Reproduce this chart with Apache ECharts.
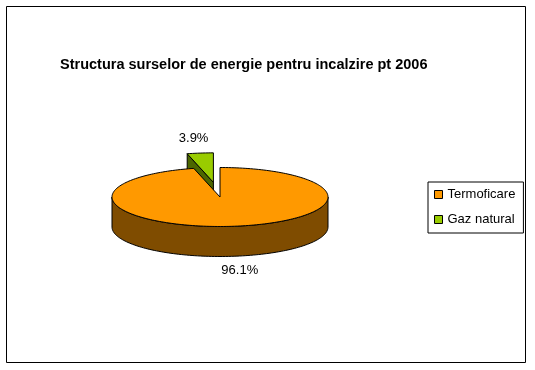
<!DOCTYPE html>
<html><head><meta charset="utf-8">
<script src="https://cdn.jsdelivr.net/npm/echarts@6/dist/echarts.min.js"></script>
<style>html,body{margin:0;padding:0;background:#fff}#c{width:535px;height:370px}</style>
</head><body><div id="c"></div>
<script>
// ---- data ----
const categories = ['Termoficare', 'Gaz natural'];
const values = [96.1, 3.9];
const explode = [0, 0.5];
const titleText = 'Structura surselor de energie pentru incalzire pt 2006';

// ---- styles ----
const topColors = ['#FF9900', '#99CC00'];
const sideColors = ['#7F4C00', '#4C6600'];
const FONT = '"Liberation Sans", Arial, sans-serif';

// ---- pie geometry (layout) ----
const CX = 220, CY = 197, RX = 108, RY = 29.5, DEPTH = 30;

const total = values.reduce((a, b) => a + b, 0);

function pt(cx, cy, th, dz) { return [cx + RX * Math.sin(th), cy - RY * Math.cos(th) + dz]; }
function arc(cx, cy, a, b, dz) {
  const n = Math.max(2, Math.ceil((b - a) / (Math.PI / 120)));
  const out = [];
  for (let i = 0; i <= n; i++) out.push(pt(cx, cy, a + (b - a) * i / n, dz));
  return out;
}

function makeRender(idx) {
  return function (params, api) {
    const v = api.value(0);
    let before = 0;
    for (let i = 0; i < idx; i++) before += values[i];
    const a = before / total * Math.PI * 2;
    const b = (before + v) / total * Math.PI * 2;
    const mid = (a + b) / 2;
    const k = explode[idx];
    const cx = CX + RX * k * Math.sin(mid);
    const cy = CY - RY * k * Math.cos(mid);
    const stroke = { stroke: '#000', lineWidth: 1 };
    const children = [];
    if (Math.sin(a) < -1e-6) {
      const p = pt(cx, cy, a, 0);
      children.push({ type: 'polygon', shape: { points: [[cx, cy], p, [p[0], p[1] + DEPTH], [cx, cy + DEPTH]] },
        style: Object.assign({ fill: sideColors[idx] }, stroke) });
    }
    if (Math.sin(b) > 1e-6) {
      const p = pt(cx, cy, b, 0);
      children.push({ type: 'polygon', shape: { points: [[cx, cy], p, [p[0], p[1] + DEPTH], [cx, cy + DEPTH]] },
        style: Object.assign({ fill: sideColors[idx] }, stroke) });
    }
    const lo = Math.max(a, Math.PI / 2), hi = Math.min(b, Math.PI * 1.5);
    if (hi > lo) {
      const pts = arc(cx, cy, lo, hi, 0).concat(arc(cx, cy, lo, hi, DEPTH).reverse());
      children.push({ type: 'polygon', shape: { points: pts }, style: Object.assign({ fill: sideColors[idx] }, stroke) });
    }
    children.push({ type: 'polygon', shape: { points: [[cx, cy]].concat(arc(cx, cy, a, b, 0)) },
      style: Object.assign({ fill: topColors[idx] }, stroke) });
    const f = 1.5;
    const lx = cx + RX * f * Math.sin(mid);
    const ly = cy - RY * f * Math.cos(mid) + (Math.cos(mid) < 0 ? DEPTH : 0);
    children.push({ type: 'text', style: { text: (v / total * 100).toFixed(1) + '%', x: lx, y: ly,
      align: 'center', verticalAlign: 'middle', font: '13px ' + FONT, fill: '#000' } });
    return { type: 'group', children: children };
  };
}

const chart = echarts.init(document.getElementById('c'));
const series = categories.map((name, i) => ({
  type: 'custom', name: name, coordinateSystem: 'none',
  renderItem: makeRender(i),
  data: [[values[i]]],
  itemStyle: { color: topColors[i] },
  z: i === 0 ? 3 : 2,
  silent: true
}));

chart.setOption({
  animation: false,
  backgroundColor: '#fff',
  title: {
    text: titleText, left: 60, top: 57, padding: 0,
    textStyle: { fontFamily: FONT, fontSize: 14.5, fontWeight: 'bold', color: '#000' }
  },
  legend: {
    data: categories, orient: 'vertical', left: 428, top: 182,
    padding: [6, 8, 7, 6], itemGap: 12, itemWidth: 8, itemHeight: 8,
    icon: 'rect', borderColor: '#000', borderWidth: 1, borderRadius: 0,
    itemStyle: { borderColor: '#000', borderWidth: 1 },
    textStyle: { fontFamily: FONT, fontSize: 13, color: '#000' },
    selectedMode: false
  },
  graphic: [{ type: 'rect', shape: { x: 6.5, y: 6.5, width: 519, height: 356 },
    style: { fill: 'none', stroke: '#000', lineWidth: 1 }, silent: true }],
  series: series
});
</script></body></html>
